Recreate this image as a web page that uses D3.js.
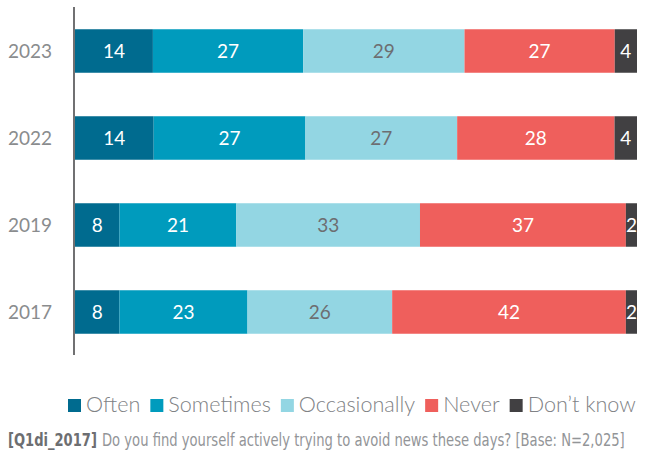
<!DOCTYPE html>
<html>
<head>
<meta charset="utf-8">
<script src="https://cdn.jsdelivr.net/npm/d3@7.9.0/dist/d3.min.js"></script>
<style>
  body { margin: 0; background: #fff; }
  svg { display: block; font-family: Lato, "Open Sans", sans-serif; }
</style>
</head>
<body>
<svg id="chart" width="646" height="459"></svg>
<script>
// chart data
const years = ['2023', '2022', '2019', '2017'];
const categories = ['Often', 'Sometimes', 'Occasionally', 'Never', 'Don\u2019t know'];
const often = [14, 14, 8, 8];
const sometimes = [27, 27, 21, 23];
const occasionally = [29, 27, 33, 26];
const never = [27, 28, 37, 42];
const dontKnow = [4, 4, 2, 2];
const colors = ['#006b8f', '#009bbd', '#93d6e3', '#ef5f5c', '#414042'];
const labelColors = ['#fff', '#fff', '#6d6e71', '#fff', '#fff'];
const footBold = '[Q1di_2017]';
const footText = 'Do you find yourself actively trying to avoid news these days? [Base: N=2,025]';

// build rows for d3.stack
const series = [often, sometimes, occasionally, never, dontKnow];
const rows = years.map((yr, i) => {
    let row = { year: yr };
    categories.forEach((c, j) => { row[c] = series[j][i]; });
    return row;
});

const svg = d3.select('#chart');

let x = d3.scaleLinear().domain([0, 1]).range([75, 637]);
let y = d3.scaleBand().domain(years).range([7.5, 355.5]).paddingInner(0.5).paddingOuter(0.25);

let stacked = d3.stack()
    .keys(categories)
    .offset(d3.stackOffsetExpand)(rows);

// bars
let groups = svg.append('g')
    .selectAll('g')
    .data(stacked)
    .join('g')
    .attr('fill', (d, i) => colors[i]);

groups.selectAll('rect')
    .data(d => d)
    .join('rect')
    .attr('x', d => x(d[0]))
    .attr('y', d => y(d.data.year))
    .attr('width', d => x(d[1]) - x(d[0]))
    .attr('height', y.bandwidth());

// value labels
stacked.forEach((s, i) => {
    svg.append('g')
        .selectAll('text')
        .data(s)
        .join('text')
        .attr('x', d => (x(d[0]) + x(d[1])) / 2)
        .attr('y', d => y(d.data.year) + y.bandwidth() / 2)
        .attr('dy', '0.36em')
        .attr('text-anchor', 'middle')
        .attr('font-size', 19)
        .attr('fill', labelColors[i])
        .text(d => d.data[s.key]);
});

// y axis: line + year labels
svg.append('line')
    .attr('x1', 74).attr('x2', 74)
    .attr('y1', 7).attr('y2', 355)
    .attr('stroke', '#4d4d4f')
    .attr('stroke-width', 1.6);

svg.append('g')
    .selectAll('text')
    .data(years)
    .join('text')
    .attr('x', 52)
    .attr('y', d => y(d) + y.bandwidth() / 2)
    .attr('dy', '0.36em')
    .attr('text-anchor', 'end')
    .attr('font-size', 19)
    .attr('fill', '#8a8c8e')
    .text(d => d);

// legend
let legend = svg.append('g');
let lx = 68;
categories.forEach((c, i) => {
    legend.append('rect')
        .attr('x', lx).attr('y', 399)
        .attr('width', 13).attr('height', 13)
        .attr('fill', colors[i]);
    let t = legend.append('text')
        .attr('x', lx + 18).attr('y', 412)
        .attr('font-size', 21.6)
        .attr('font-weight', 300)
        .attr('fill', '#808285')
        .text(c);
    lx += 18 + t.node().getComputedTextLength() + 10;
});

// footnote: condensed face, squeezed horizontally to the reference width
function squeezedText(str, left, width, bold, color) {
    let g = svg.append('g');
    let t = g.append('text')
        .attr('font-family', '"DejaVu Sans Condensed", "Liberation Sans Narrow", sans-serif')
        .attr('font-size', 17)
        .attr('font-weight', bold ? 'bold' : 'normal')
        .attr('fill', color)
        .text(str);
    let k = width / t.node().getComputedTextLength();
    g.attr('transform', `translate(${left},446) scale(${k},1)`);
}
squeezedText(footBold, 8, 89, true, '#6d6e71');
squeezedText(footText, 102, 523, false, '#939598');
</script>
</body>
</html>
